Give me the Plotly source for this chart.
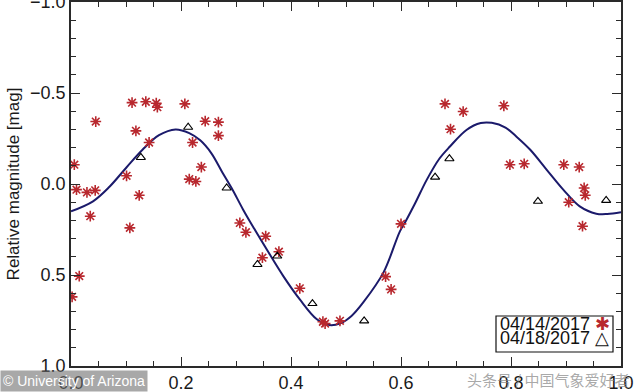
import plotly.graph_objects as go

# ---- data ----
phase_0414 = [0.006, 0.002, 0.015, 0.010, 0.029, 0.044, 0.035, 0.045, 0.101, 0.107,
              0.111, 0.118, 0.124, 0.136, 0.142, 0.155, 0.157, 0.207, 0.215, 0.227,
              0.221, 0.237, 0.244, 0.268, 0.268, 0.307, 0.318, 0.354, 0.348, 0.378,
              0.416, 0.458, 0.462, 0.489, 0.572, 0.582, 0.600, 0.680, 0.690, 0.713,
              0.787, 0.798, 0.824, 0.896, 0.905, 0.924, 0.930, 0.933, 0.935]
mag_0414 = [-0.106, 0.620, 0.506, 0.031, 0.046, 0.035, 0.177, -0.343, -0.045, 0.241,
            -0.447, -0.292, 0.062, -0.452, -0.228, -0.444, -0.422, -0.440, -0.027, -0.014,
            -0.228, -0.093, -0.345, -0.340, -0.266, 0.214, 0.265, 0.287, 0.405, 0.372,
            0.573, 0.757, 0.767, 0.752, 0.509, 0.579, 0.219, -0.440, -0.301, -0.398,
            -0.430, -0.106, -0.111, -0.106, 0.100, -0.093, 0.232, 0.022, 0.062]

phase_0418 = [0.127, 0.213, 0.283, 0.339, 0.375, 0.439, 0.533, 0.662, 0.688, 0.849, 0.973]
mag_0418 = [-0.146, -0.312, 0.022, 0.442, 0.396, 0.657, 0.752, -0.038, -0.139, 0.095, 0.090]

fit_phase = [0.00, 0.04, 0.07, 0.10, 0.13, 0.16, 0.19, 0.215, 0.235, 0.255, 0.275, 0.292,
             0.313, 0.333, 0.356, 0.386, 0.416, 0.447, 0.470, 0.490, 0.510, 0.531, 0.568,
             0.598, 0.610, 0.625, 0.647, 0.670, 0.689, 0.719, 0.745, 0.765, 0.790, 0.810,
             0.835, 0.865, 0.895, 0.925, 0.955, 0.975, 1.00]
fit_mag = [0.150, 0.095, 0.015, -0.088, -0.188, -0.268, -0.300, -0.280, -0.240, -0.170,
           -0.065, 0.022, 0.141, 0.245, 0.360, 0.506, 0.634, 0.743, 0.775, 0.765, 0.725,
           0.652, 0.487, 0.260, 0.196, 0.110, -0.024, -0.140, -0.206, -0.297, -0.335,
           -0.336, -0.310, -0.260, -0.188, -0.078, 0.031, 0.123, 0.163, 0.165, 0.155]

x_ticks = [0.0, 0.2, 0.4, 0.6, 0.8, 1.0]
y_ticks = [-1.0, -0.5, 0.0, 0.5, 1.0]
legend_labels = ["04/14/2017", "04/18/2017"]

FONT = "Liberation Sans, Arial, Helvetica, sans-serif"
RED = "#b8282e"
NAVY = "#1b1a6b"
AX = "#2a2a2a"

fig = go.Figure()
fig.add_trace(go.Scatter(x=fit_phase, y=fit_mag, mode="lines",
                         line=dict(color=NAVY, width=2, shape="spline", smoothing=1.0),
                         showlegend=False, hoverinfo="skip"))
fig.add_trace(go.Scatter(x=phase_0414, y=mag_0414, mode="markers", name=legend_labels[0],
                         marker=dict(symbol="asterisk-open", size=9, color=RED,
                                     line=dict(color=RED, width=1.6)),
                         showlegend=False))
fig.add_trace(go.Scatter(x=phase_0418, y=mag_0418, mode="markers", name=legend_labels[1],
                         marker=dict(symbol="triangle-up-open", size=8, color="black",
                                     line=dict(color="black", width=1.1)),
                         showlegend=False))

axis_common = dict(showline=True, linecolor=AX, linewidth=1.5, mirror="ticks",
                   ticks="inside", ticklen=9, tickwidth=1.3, tickcolor=AX,
                   showgrid=False, zeroline=False, tickformat=".1f", automargin=False,
                   ticklabeloverflow="allow",
                   tickfont=dict(family=FONT, size=18, color="#1a1a1a"))

fig.update_xaxes(range=[0, 1], tickvals=x_ticks,
                 minor=dict(dtick=0.05, ticklen=5, ticks="inside", tickcolor=AX, tickwidth=1.2),
                 **axis_common)
fig.update_yaxes(range=[1, -1], autorange=False, tickvals=y_ticks,
                 minor=dict(dtick=0.1, ticklen=5, ticks="inside", tickcolor=AX, tickwidth=1.2),
                 title=dict(text="Relative magnitude [mag]", standoff=6,
                            font=dict(family=FONT, size=17, color="#1a1a1a")),
                 **axis_common)

# legend box (manual, symbols to the right of the text as in the reference)
L, R, T, B = 496, 613, 316, 352
W, H = 634, 392
ml, mr, mt, mb = 71, 13, 2, 26
pw, ph = W - ml - mr, H - mt - mb

def px2x(px):
    return (px - ml) / pw

def py2y(py):
    return (H - mb - py) / ph

fig.add_shape(type="rect", xref="paper", yref="paper",
              x0=px2x(L), x1=px2x(R), y0=py2y(B), y1=py2y(T),
              line=dict(color="#111", width=1.2), fillcolor="white", layer="above")
fig.add_annotation(xref="paper", yref="paper", x=px2x(498), y=py2y(324),
                   xanchor="left", yanchor="middle", showarrow=False,
                   text=legend_labels[0] + " <span style='color:%s'>✱</span>" % RED,
                   font=dict(family=FONT, size=18, color="#111"))
fig.add_annotation(xref="paper", yref="paper", x=px2x(498), y=py2y(338),
                   xanchor="left", yanchor="middle", showarrow=False,
                   text=legend_labels[1] + " △",
                   font=dict(family=FONT, size=18, color="#111"))

# watermarks
fig.add_annotation(xref="paper", yref="paper", x=px2x(0), y=py2y(392),
                   xanchor="left", yanchor="bottom", showarrow=False,
                   text="© University of Arizona", bgcolor="rgba(110,110,110,0.6)",
                   borderpad=2,
                   font=dict(family=FONT, size=14, color="white"))
fig.add_annotation(xref="paper", yref="paper", x=px2x(632), y=py2y(392),
                   xanchor="right", yanchor="bottom", showarrow=False,
                   text="头条号 / 中国气象爱好者",
                   font=dict(family="Noto Sans CJK SC", size=15, color="rgba(130,130,130,0.7)"))

fig.update_layout(width=W, height=H, margin=dict(l=ml, r=mr, t=mt, b=mb, autoexpand=False),
                  paper_bgcolor="white", plot_bgcolor="white", showlegend=False,
                  font=dict(family=FONT))

fig.write_html("out.html", config={"displayModeBar": False},
               post_script="document.body.style.margin='0';document.body.style.overflow='hidden';")
